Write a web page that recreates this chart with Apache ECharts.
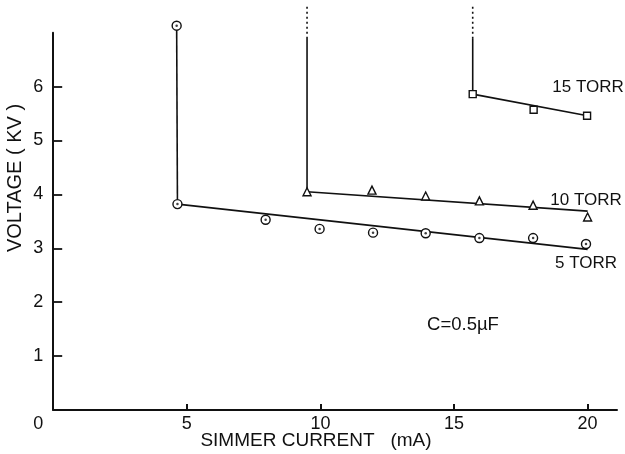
<!DOCTYPE html>
<html>
<head>
<meta charset="utf-8">
<script src="https://cdn.jsdelivr.net/npm/echarts@6/dist/echarts.min.js"></script>
<style>html,body{margin:0;padding:0;background:#fff}#c{width:625px;height:454px}</style>
</head>
<body>
<div id="c"></div>
<script>
// ---- data ----
const xTicks = [0, 5, 10, 15, 20];
const yTicks = [1, 2, 3, 4, 5, 6];

const torr5X = [4.62, 4.65, 7.95, 9.97, 11.97, 13.94, 15.95, 17.96, 19.94];
const torr5Y = [7.13, 3.82, 3.53, 3.36, 3.29, 3.28, 3.19, 3.19, 3.08];
const torr5FitX = [4.65, 20.0];
const torr5FitY = [3.82, 2.98];
const torr5RiseX = [4.62, 4.65];
const torr5RiseY = [7.13, 3.82];

const torr10X = [9.5, 11.93, 13.94, 15.95, 17.96, 20.0];
const torr10Y = [4.05, 4.08, 3.97, 3.88, 3.80, 3.58];
const torr10FitX = [9.5, 20.0];
const torr10FitY = [4.05, 3.69];
const torr10RiseX = [9.5, 9.5];
const torr10RiseY = [6.9, 4.05];
const torr10DotY = [7.48, 6.9];

const torr15X = [15.7, 17.98, 19.98];
const torr15Y = [5.86, 5.57, 5.46];
const torr15FitX = [15.7, 20.0];
const torr15FitY = [5.86, 5.46];
const torr15RiseX = [15.7, 15.7];
const torr15RiseY = [6.9, 5.86];
const torr15DotY = [7.48, 6.9];

const labels = ['5 TORR', '10 TORR', '15 TORR'];
const capLabel = 'C=0.5\u00B5F';
const xTitle = 'SIMMER CURRENT   (mA)';
const yTitle = 'VOLTAGE ( KV )';

const zip = (xs, ys) => xs.map((x, i) => [x, ys[i]]);
const FONT = 'Liberation Sans';
const INK = '#111';

function lineSeries(data, dashed) {
  return {
    type: 'line', data, symbol: 'none', clip: false, silent: true,
    lineStyle: { color: INK, width: 1.6, type: dashed ? [2, 3] : 'solid' },
    z: 2
  };
}
function markSeries(data, symbol, size) {
  return {
    type: 'scatter', data, symbol, symbolSize: size, clip: false, silent: true,
    itemStyle: { color: '#fff', borderColor: INK, borderWidth: 1.4, opacity: 1 },
    z: 3
  };
}
function txt(text, x, y, size, rot) {
  return { type: 'text', x, y, rotation: rot || 0,
    style: { text, font: size + 'px "' + FONT + '"', fill: INK, textAlign: 'center', textVerticalAlign: 'middle' } };
}

const chart = echarts.init(document.getElementById('c'), null, { renderer: 'canvas' });
chart.setOption({
  animation: false,
  backgroundColor: '#fff',
  grid: { left: 53.2, right: 8, top: 32.7, bottom: 44 },
  xAxis: {
    type: 'value', min: 0, max: 21.1, interval: 5,
    axisLine: { show: true, lineStyle: { color: INK, width: 2 } },
    axisTick: { show: true, inside: true, length: 6, lineStyle: { color: INK, width: 2 } },
    splitLine: { show: false },
    axisLabel: {
      show: true, showMaxLabel: false, margin: 5, color: INK,
      fontFamily: FONT, fontSize: 18,
      formatter: v => xTicks.indexOf(v) === 0 ? '{z|' + v + '}' : (xTicks.indexOf(v) > 0 ? String(v) : ''),
      rich: { z: { fontFamily: FONT, fontSize: 18, color: INK, padding: [0, 30, 0, 0] } }
    }
  },
  yAxis: {
    type: 'value', min: 0, max: 7, interval: 1,
    axisLine: { show: true, lineStyle: { color: INK, width: 2 } },
    axisTick: { show: true, inside: true, length: 9, lineStyle: { color: INK, width: 1.8 } },
    splitLine: { show: false },
    axisLabel: {
      showMinLabel: false, showMaxLabel: false, margin: 10, color: INK,
      fontFamily: FONT, fontSize: 18,
      formatter: v => yTicks.indexOf(v) >= 0 ? String(v) : ''
    }
  },
  graphic: [
    txt(xTitle, 316, 441, 19),
    txt(yTitle, 15, 178, 20, Math.PI / 2),
    txt(labels[0], 586, 263, 17),
    txt(labels[1], 586, 200, 17),
    txt(labels[2], 588, 87, 17),
    txt(capLabel, 463, 325, 18.5)
  ],
  series: [
    lineSeries(zip(torr5RiseX, torr5RiseY)),
    lineSeries(zip(torr5FitX, torr5FitY)),
    lineSeries(zip(torr10RiseX, torr10RiseY)),
    lineSeries(zip(torr10RiseX, torr10DotY), true),
    lineSeries(zip(torr10FitX, torr10FitY)),
    lineSeries(zip(torr15RiseX, torr15RiseY)),
    lineSeries(zip(torr15RiseX, torr15DotY), true),
    lineSeries(zip(torr15FitX, torr15FitY)),
    markSeries(zip(torr5X, torr5Y), 'circle', 9),
    Object.assign(markSeries(zip(torr5X, torr5Y), 'circle', 2.5), { itemStyle: { color: INK, borderWidth: 0 }, z: 4 }),
    markSeries(zip(torr10X, torr10Y), 'triangle', 8),
    markSeries(zip(torr15X, torr15Y), 'rect', 7)
  ]
});
</script>
</body>
</html>
